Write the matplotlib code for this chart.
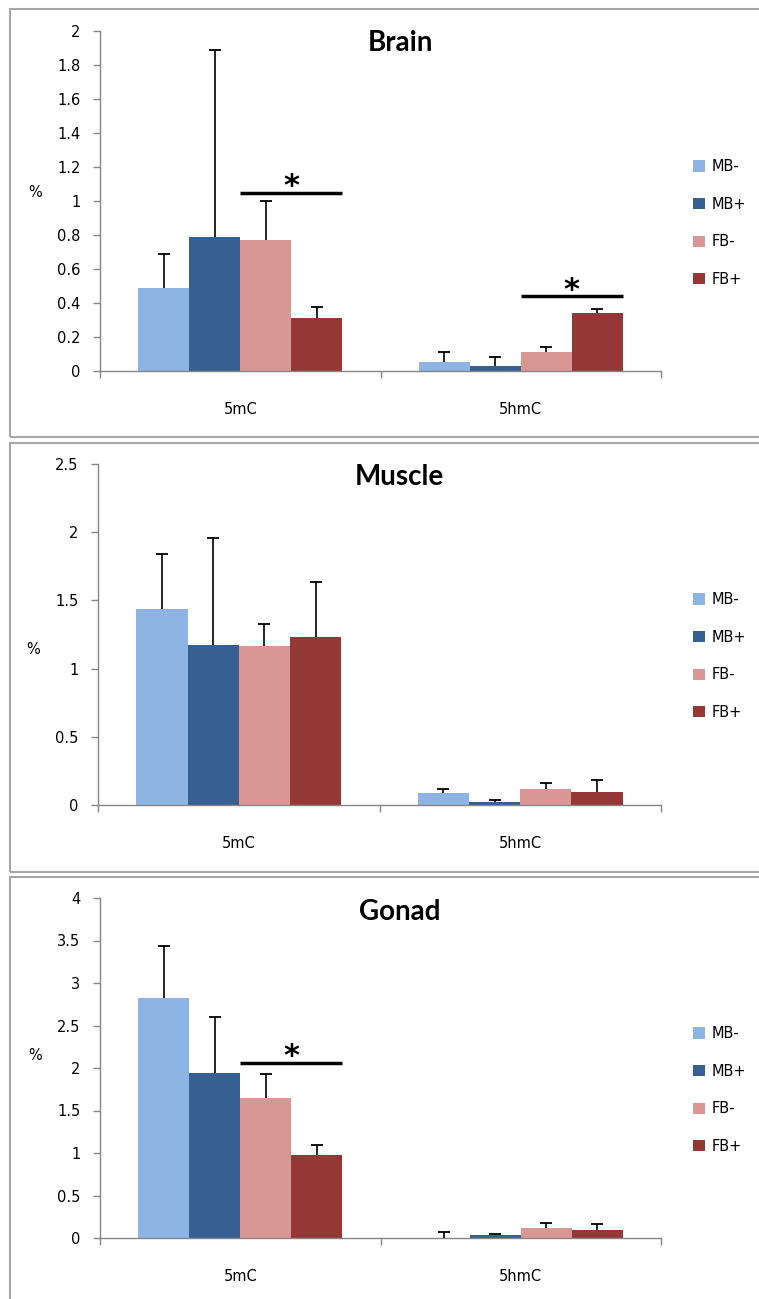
import numpy as np
import matplotlib
matplotlib.use("Agg")
import matplotlib.pyplot as plt
from matplotlib.patches import Rectangle, Patch
from matplotlib.ticker import FuncFormatter, FixedLocator

# figure size in pixels
W = 759
H = 1299

categories = ["5mC", "5hmC"]
groups = ["MB-", "MB+", "FB-", "FB+"]
colors = ["#8EB4E3", "#366092", "#D99694", "#953735"]

titles = ["Brain", "Muscle", "Gonad"]
ymax = [2.0, 2.5, 4.0]
ystep = [0.2, 0.5, 0.5]

# means, rows = groups, columns = categories
brain_mean = [[0.49, 0.055], [0.79, 0.03], [0.77, 0.11], [0.31, 0.34]]
brain_err = [[0.20, 0.055], [1.10, 0.05], [0.23, 0.03], [0.065, 0.025]]
muscle_mean = [[1.435, 0.085], [1.175, 0.02], [1.165, 0.12], [1.23, 0.095]]
muscle_err = [[0.405, 0.03], [0.785, 0.015], [0.165, 0.04], [0.405, 0.085]]
gonad_mean = [[2.82, 0.0], [1.94, 0.04], [1.65, 0.12], [0.98, 0.10]]
gonad_err = [[0.61, 0.07], [0.66, 0.01], [0.28, 0.06], [0.11, 0.065]]

# significance bars: (category index, height)
brain_sig = [(0, 1.047), (1, 0.44)]
muscle_sig = []
gonad_sig = [(0, 2.06)]

means = [brain_mean, muscle_mean, gonad_mean]
errs = [brain_err, muscle_err, gonad_err]
sigs = [brain_sig, muscle_sig, gonad_sig]

# layout in pixels (left, top, right, bottom)
axes_px = [(100, 31, 661, 371), (98, 464, 661, 805), (100, 898, 661, 1238)]
box_px = [(10, 9, 775, 437), (10, 443, 775, 872), (10, 877, 775, 1320)]
title_px = [(400, 43), (399, 477), (400, 912)]
legend_y = [223, 656, 1090]
pct_y = [0.526, 0.455, 0.538]

axis_col = "#868686"
fs = 10.5


def px_axes(l, t, r, b):
    return [l / W, 1 - b / H, (r - l) / W, (b - t) / H]


fig = plt.figure(figsize=(W / 100, H / 100), dpi=100)
fig.patch.set_facecolor("white")

bw = 0.182
x = np.arange(len(categories))

for p in range(3):
    l, t, r, b = box_px[p]
    fig.add_artist(Rectangle((l / W, 1 - b / H), (r - l) / W, (b - t) / H,
                             transform=fig.transFigure, fill=False,
                             edgecolor="#A6A6A6", lw=1.5))

    ax = fig.add_axes(px_axes(*axes_px[p]))
    m = np.array(means[p])
    e = np.array(errs[p])
    for i in range(len(groups)):
        xs = x + (i - 1.5) * bw
        ax.bar(xs, m[i], bw, color=colors[i], label=groups[i], zorder=2)
        # upper error bar only, cap at the top
        ax.vlines(xs, m[i], m[i] + e[i], color="black", lw=1.2, zorder=3)
        ax.plot(xs, m[i] + e[i], ls="none", marker="_", ms=8, mew=1.3,
                color="black", zorder=3)

    for ci, yh in sigs[p]:
        ax.plot([x[ci], x[ci] + 2 * bw], [yh, yh], color="black", lw=2.5,
                solid_capstyle="butt", zorder=3)
        ax.annotate("*", (x[ci] + bw, yh), xytext=(0, -6), textcoords="offset points",
                    ha="center", va="bottom", fontsize=22, fontweight="bold",
                    family="DejaVu Sans")

    ax.set_xlim(-0.5, 1.5)
    ax.set_ylim(0, ymax[p])
    ax.yaxis.set_major_locator(FixedLocator(np.arange(0, ymax[p] + 1e-9, ystep[p])))
    ax.yaxis.set_major_formatter(FuncFormatter(lambda v, pos: "{:g}".format(round(v, 2))))
    ax.set_xticks(x)
    ax.set_xticklabels(categories)
    ax.set_xticks([-0.5, 0.5, 1.5], minor=True)
    ax.tick_params(axis="x", which="major", length=0, pad=22, labelsize=fs)
    ax.tick_params(axis="x", which="minor", length=5, color=axis_col, width=1)
    ax.tick_params(axis="y", length=5, color=axis_col, width=1, pad=9, labelsize=fs)
    for s in ["top", "right"]:
        ax.spines[s].set_visible(False)
    for s in ["left", "bottom"]:
        ax.spines[s].set_color(axis_col)
        ax.spines[s].set_linewidth(1)
    ax.text(-0.116, pct_y[p], "%", transform=ax.transAxes, ha="center",
            va="center", fontsize=fs)

    tx, ty = title_px[p]
    fig.text(tx / W, 1 - ty / H, titles[p], ha="center", va="center",
             fontsize=20, fontweight="bold", family="Lato")

    handles = [Patch(facecolor=colors[i], edgecolor="none") for i in range(len(groups))]
    fig.legend(handles, groups, loc="center left",
               bbox_to_anchor=(693 / W, 1 - legend_y[p] / H), frameon=False,
               fontsize=fs, handlelength=0.8, handleheight=0.8,
               handletextpad=0.45, labelspacing=1.55, borderpad=0,
               borderaxespad=0)

fig.savefig("out.png", dpi=100, facecolor="white")
